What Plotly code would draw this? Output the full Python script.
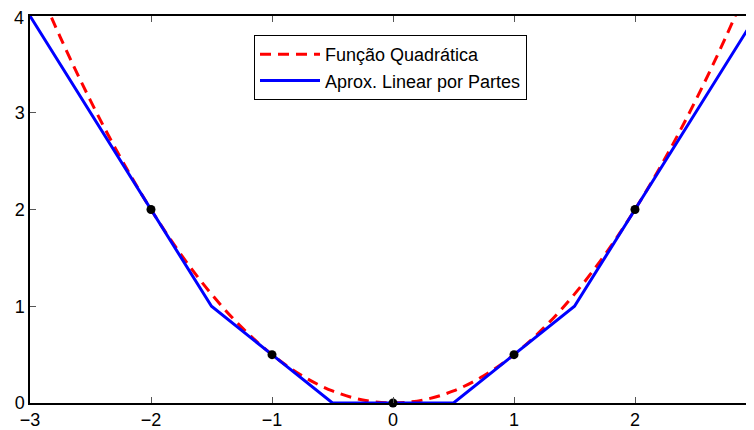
import plotly.graph_objects as go

# Quadratic function samples (y = x^2/2 read at quarter steps)
quad_x = [-3, -2.75, -2.5, -2.25, -2, -1.75, -1.5, -1.25, -1, -0.75, -0.5, -0.25, 0,
          0.25, 0.5, 0.75, 1, 1.25, 1.5, 1.75, 2, 2.25, 2.5, 2.75, 3]
quad_y = [4.5, 3.78125, 3.125, 2.53125, 2, 1.53125, 1.125, 0.78125, 0.5, 0.28125, 0.125, 0.03125, 0,
          0.03125, 0.125, 0.28125, 0.5, 0.78125, 1.125, 1.53125, 2, 2.53125, 3.125, 3.78125, 4.5]

# Piecewise linear approximation
pwl_x = [-3, -2, -1.5, -1, -0.5, 0.5, 1, 1.5, 2, 3]
pwl_y = [4, 2, 1, 0.5, 0, 0, 0.5, 1, 2, 4]

# Sample nodes
node_x = [-2, -1, 0, 1, 2]
node_y = [2, 0.5, 0, 0.5, 2]

x_ticks = [-3, -2, -1, 0, 1, 2, 3]
y_ticks = [0, 1, 2, 3, 4]

# page body has an 8px default margin; compensate
OFF = 8
W, H = 754 - OFF, 430 - OFF
ML, MT = 30 - OFF, 16 - OFF
PLOT_H = 403 - 16
MB = H - MT - PLOT_H
px_per_unit = 121.0
PLOT_W = W - ML
x_max = -3 + PLOT_W / px_per_unit

fig = go.Figure()
fig.add_trace(go.Scatter(x=quad_x, y=quad_y, mode="lines", name="Função Quadrática",
                         line=dict(color="#ff0000", width=3, dash="11px,7px"), line_shape="spline"))
fig.add_trace(go.Scatter(x=pwl_x, y=pwl_y, mode="lines", name="Aprox. Linear por Partes",
                         line=dict(color="#0000ff", width=3)))
fig.add_trace(go.Scatter(x=node_x, y=node_y, mode="markers", showlegend=False,
                         marker=dict(color="black", size=9), cliponaxis=False))
# invisible trace to drive the right-side tick axis
fig.add_trace(go.Scatter(x=[0], y=[0], yaxis="y2", mode="markers", showlegend=False,
                         marker=dict(opacity=0), hoverinfo="skip"))

FAM = "Liberation Sans, Arial, Helvetica, sans-serif"
font = dict(family=FAM, size=18, color="black")

fig.update_layout(
    width=W, height=H,
    margin=dict(l=ML, r=0, t=MT, b=MB, pad=0, autoexpand=False),
    paper_bgcolor="white", plot_bgcolor="white",
    font=font,
    xaxis=dict(range=[-3, x_max], tickvals=x_ticks, ticks="inside", ticklen=6, tickcolor="#555",
               showline=True, linecolor="black", linewidth=1.5, mirror="ticks",
               showgrid=False, zeroline=False, tickfont=font, automargin=False),
    yaxis=dict(range=[0, 4], tickvals=y_ticks[:-1], ticks="inside", ticklen=6, tickcolor="#555",
               showline=True, linecolor="black", linewidth=1.5, mirror=False,
               showgrid=False, zeroline=False, tickfont=font, automargin=False),
    yaxis2=dict(range=[0, 4], tickvals=y_ticks, overlaying="y", side="right",
                ticks="inside", ticklen=6, tickcolor="#555", showline=False,
                showticklabels=False, showgrid=False, zeroline=False, automargin=False),
    legend=dict(x=(254 - 30) / PLOT_W, y=(403 - 35) / PLOT_H,
                xanchor="left", yanchor="top", bgcolor="white",
                bordercolor="black", borderwidth=1,
                font=dict(family=FAM, size=18, color="black"),
                itemwidth=60, tracegroupgap=0),
    showlegend=True,
)
# top y tick label (drawn as text so it is not dropped at the figure edge)
fig.add_annotation(x=0, y=y_ticks[-1], xref="paper", yref="y", text=str(y_ticks[-1]),
                   showarrow=False, xanchor="right", yanchor="middle", xshift=-4, yshift=-2,
                   font=font)
# partially visible x tick label at the right edge
fig.add_annotation(x=(757 - 30) / PLOT_W, y=0, xref="paper", yref="paper",
                   text=str(x_ticks[-1]), showarrow=False, xanchor="center", yanchor="top",
                   yshift=-2, font=font)

fig.write_html("out.html")
